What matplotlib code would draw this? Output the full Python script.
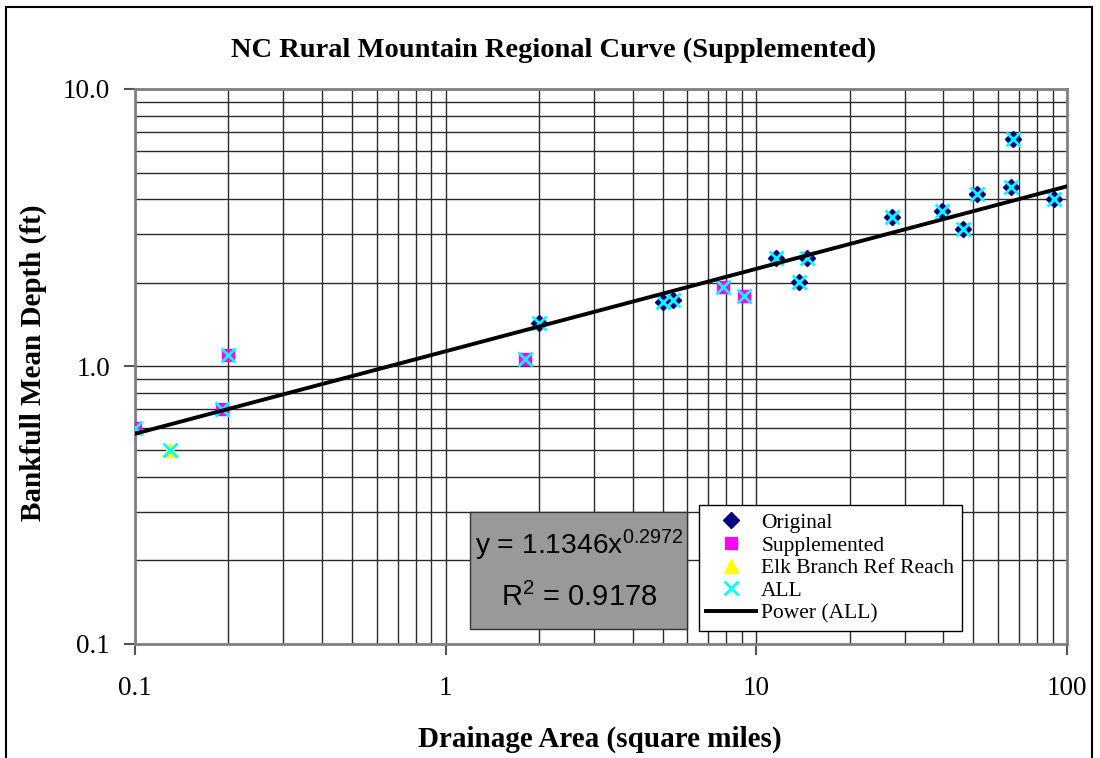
import numpy as np
import matplotlib.pyplot as plt
from matplotlib.ticker import FixedLocator, NullFormatter, LogLocator
from matplotlib.lines import Line2D
from matplotlib.patches import Rectangle

plt.rcParams['font.family'] = ['Liberation Serif', 'DejaVu Serif']
plt.rcParams['mathtext.fontset'] = 'custom'
plt.rcParams['mathtext.rm'] = 'Liberation Sans'
plt.rcParams['mathtext.default'] = 'regular'

# data (drainage area sq mi, mean depth ft)
orig_area = [2.0, 5.0, 5.4, 11.6, 13.7, 14.6, 27.3, 39.6, 46.2, 51.3, 65.9, 66.9, 90.7]
orig_depth = [1.43, 1.71, 1.73, 2.47, 2.01, 2.47, 3.47, 3.62, 3.14, 4.20, 4.42, 6.58, 4.0]
supp_area = [0.1, 0.19, 0.2, 1.8, 7.8, 9.1]
supp_depth = [0.60, 0.70, 1.10, 1.06, 1.94, 1.80]
elk_area = [0.13]
elk_depth = [0.50]

coef = 1.1346
expo = 0.2972
r2 = 0.9178

all_area = orig_area + supp_area + elk_area
all_depth = orig_depth + supp_depth + elk_depth

fig = plt.figure(figsize=(11, 7.58), dpi=100)
ax = fig.add_axes([0.1227, 0.1504, 0.8473, 0.7322])

ax.plot(orig_area, orig_depth, ls='none', marker='D', ms=8, color='#000080', label='Original', zorder=3)
ax.plot(supp_area, supp_depth, ls='none', marker='s', ms=9, color='#ff00ff', label='Supplemented', zorder=3)
ax.plot(elk_area, elk_depth, ls='none', marker='^', ms=10, color='#ffff00', label='Elk Branch Ref Reach', zorder=3)
ax.plot(all_area, all_depth, ls='none', marker='x', ms=10, mew=2, color='#00ffff', label='ALL', zorder=4)

xs = np.logspace(-1, 2, 200)
ax.plot(xs, coef * xs ** expo, color='black', lw=2.8, label='Power (ALL)', zorder=5)

ax.set_xscale('log')
ax.set_yscale('log')
ax.set_xlim(0.1, 100)
ax.set_ylim(0.1, 10)

ax.xaxis.set_major_locator(FixedLocator([0.1, 1, 10, 100]))
ax.yaxis.set_major_locator(FixedLocator([0.1, 1, 10]))
ax.set_xticklabels(['0.1', '1', '10', '100'])
ax.set_yticklabels(['0.1', '1.0', '10.0'])
ax.xaxis.set_minor_locator(LogLocator(base=10, subs=np.arange(2, 10)))
ax.yaxis.set_minor_locator(LogLocator(base=10, subs=np.arange(2, 10)))
ax.xaxis.set_minor_formatter(NullFormatter())
ax.yaxis.set_minor_formatter(NullFormatter())
ax.tick_params(which='major', direction='out', length=8, width=1.5, color='#555555', labelsize=19.5)
ax.tick_params(axis='x', which='major', pad=15)
ax.tick_params(axis='y', which='major', pad=10)
ax.tick_params(which='minor', length=0)
ax.grid(True, which='both', color='#2a2a2a', lw=1)
ax.set_axisbelow(True)
for s in ax.spines.values():
    s.set_color('#808080')
    s.set_linewidth(2)

fig.text(0.503, 0.934, 'NC Rural Mountain Regional Curve (Supplemented)', ha='center', va='center',
         fontsize=20.5, fontweight='bold')
fig.text(0.545, 0.024, 'Drainage Area (square miles)', ha='center', va='center', fontsize=21, fontweight='bold')
fig.text(0.0305, 0.521, 'Bankfull Mean Depth (ft)', ha='center', va='center', rotation=90, fontsize=21,
         fontweight='bold')

# equation box (gray trendline label)
fig.add_artist(Rectangle((470 / 1100, 1 - 629 / 758), 217 / 1100, 117 / 758, transform=fig.transFigure,
                         facecolor='#999999', edgecolor='#333333', lw=1, zorder=6))
fig.text(579 / 1100, 1 - 545 / 758, 'y = %.4fx$^{%.4f}$' % (coef, expo), ha='center', va='center',
         fontsize=20.3, family='Liberation Sans', zorder=7)
fig.text(579 / 1100, 1 - 597 / 758, 'R$^{2}$ = %.4f' % r2, ha='center', va='center',
         fontsize=21, family='Liberation Sans', zorder=7)

leg = ax.legend(loc='lower right', bbox_to_anchor=(0.887, 0.0234), fontsize=15.5, frameon=True, fancybox=False,
                edgecolor='black', framealpha=1, borderpad=0.35, labelspacing=0.12, handlelength=2.3,
                handletextpad=0.25, borderaxespad=0)
leg.get_frame().set_linewidth(1)
leg.set_zorder(7)

# outer chart frame
fig.add_artist(Line2D([0.0055, 0.0055], [0, 0.991], color='black', lw=1.5))
fig.add_artist(Line2D([0.0055, 0.9925], [0.991, 0.991], color='black', lw=1.5))
fig.add_artist(Line2D([0.9925, 0.9925], [0, 0.991], color='black', lw=1.5))

fig.savefig('out.png', dpi=100)
